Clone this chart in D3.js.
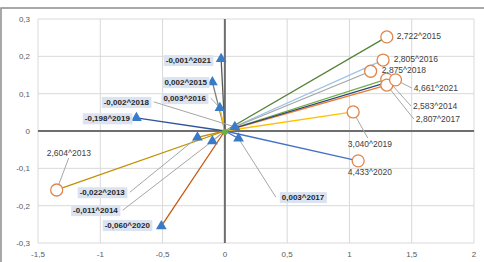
<!DOCTYPE html>
<html>
<head>
<meta charset="utf-8">
<style>
  body { margin: 0; background: #fff; }
  svg { display: block; font-family: "Liberation Sans", Arial, sans-serif; }
</style>
</head>
<body>
<script src="https://cdn.jsdelivr.net/npm/d3@7"></script>
<script>
// data
var xTicks = [-1.5, -1, -0.5, 0, 0.5, 1, 1.5, 2];
var yTicks = [-0.3, -0.2, -0.1, 0, 0.1, 0.2, 0.3];

// circles (orange open)
var circYear  = [2013, 2014, 2015, 2016, 2017, 2018, 2019, 2020, 2021];
var circValue = ["2,604", "2,583", "2,722", "2,805", "2,807", "2,875", "3,040", "4,433", "4,661"];
var circX     = [-1.35, 1.30, 1.30, 1.27, 1.30, 1.17, 1.03, 1.07, 1.37];
var circY     = [-0.158, 0.139, 0.252, 0.190, 0.123, 0.160, 0.051, -0.080, 0.137];

// triangles (blue filled)
var triYear  = [2013, 2014, 2015, 2016, 2017, 2018, 2019, 2020, 2021];
var triValue = ["-0,022", "-0,011", "0,002", "0,003", "0,003", "-0,002", "-0,198", "-0,060", "-0,001"];
var triX     = [-0.22, -0.10, -0.10, -0.04, 0.11, 0.08, -0.71, -0.51, -0.03];
var triY     = [-0.017, -0.027, 0.131, 0.062, -0.020, 0.011, 0.035, -0.255, 0.193];

// layout: label anchors (data coords), colours
var circLabX = [-1.43, 1.51, 1.38, 1.356, 1.533, 1.26, 0.987, 0.987, 1.517];
var circLabY = [-0.059, 0.067, 0.255, 0.193, 0.032, 0.164, -0.035, -0.11, 0.115];
var circLead = [true, true, false, false, true, false, true, false, true];
var circCol  = ["#BF9000", "#70AD47", "#548235", "#9DC3E6", "#ED7D31", "#A5A5A5", "#FFC000", "#4472C4", "#264478"];

var triLabX = [-0.787, -0.843, -0.128, -0.136, 0.441, -0.594, -0.746, -0.586, -0.096];
var triLabY = [-0.164, -0.212, 0.131, 0.088, -0.177, 0.078, 0.034, -0.252, 0.190];
var triLead = [true, true, false, true, true, true, false, false, false];
var triCol  = ["#BF9000", "#A5A5A5", "#7F7F7F", "#FFC000", "#4472C4", "#A9D18E", "#2F5597", "#C55A11", "#595959"];

var width = 484, height = 262;
var margin = { top: 19, right: 10, bottom: 19, left: 38 };

var svg = d3.select("body").append("svg")
    .attr("width", width).attr("height", height);

// chart frame
svg.append("rect")
    .attr("x", 1).attr("y", 8).attr("width", width + 10).attr("height", height)
    .attr("fill", "none").attr("stroke", "#8c8c8c").attr("stroke-width", 1.5);

var x = d3.scaleLinear().domain([-1.5, 2]).range([margin.left, width - margin.right]);
var y = d3.scaleLinear().domain([-0.3, 0.3]).range([height - margin.bottom, margin.top]);

// grid
svg.append("g").selectAll("line").data(xTicks).join("line")
    .attr("x1", d => x(d)).attr("x2", d => x(d))
    .attr("y1", y(0.3)).attr("y2", y(-0.3))
    .attr("stroke", "#d9d9d9");
svg.append("g").selectAll("line").data(yTicks).join("line")
    .attr("x1", x(-1.5)).attr("x2", x(2))
    .attr("y1", d => y(d)).attr("y2", d => y(d))
    .attr("stroke", "#d9d9d9");

// zero axes
svg.append("line").attr("x1", x(0)).attr("x2", x(0)).attr("y1", y(0.3)).attr("y2", y(-0.3))
    .attr("stroke", "#6e6e6e").attr("stroke-width", 2);
svg.append("line").attr("x1", x(-1.5)).attr("x2", x(2)).attr("y1", y(0)).attr("y2", y(0))
    .attr("stroke", "#6e6e6e").attr("stroke-width", 2);

// tick labels
var fmt = d => (d === 0 ? "0" : String(+d.toFixed(1)).replace(".", ","));
svg.append("g").selectAll("text").data(yTicks).join("text")
    .attr("x", 30).attr("y", d => y(d) + 3)
    .attr("text-anchor", "end").attr("font-size", 8).attr("fill", "#595959")
    .text(fmt);
svg.append("g").selectAll("text").data(xTicks).join("text")
    .attr("x", d => x(d)).attr("y", 257)
    .attr("text-anchor", "middle").attr("font-size", 8).attr("fill", "#595959")
    .text(fmt);

var circ = circYear.map((yr, i) => ({ yr: yr, v: circValue[i], x: circX[i], y: circY[i],
    lx: circLabX[i], ly: circLabY[i], lead: circLead[i], c: circCol[i] }));
var tri = triYear.map((yr, i) => ({ yr: yr, v: triValue[i], x: triX[i], y: triY[i],
    lx: triLabX[i], ly: triLabY[i], lead: triLead[i], c: triCol[i] }));

// vectors from origin
svg.append("g").selectAll("line").data(circ.concat(tri)).join("line")
    .attr("x1", x(0)).attr("y1", y(0))
    .attr("x2", d => x(d.x)).attr("y2", d => y(d.y))
    .attr("stroke", d => d.c).attr("stroke-width", 1.3);

// leader lines: to label side, or to label top/bottom when stacked
function leadEnd(d) {
  if (x(d.lx) - x(d.x) > 12) return [x(d.lx) - 2, y(d.ly)];
  return y(d.ly) > y(d.y) ? [x(d.lx) + 20, y(d.ly) - 6] : [x(d.lx) + 22, y(d.ly) + 5];
}
svg.append("g").selectAll("line").data(circ.filter(d => d.lead)).join("line")
    .attr("x1", d => x(d.x)).attr("y1", d => y(d.y))
    .attr("x2", d => leadEnd(d)[0]).attr("y2", d => leadEnd(d)[1])
    .attr("stroke", "#a6a6a6");
svg.append("g").selectAll("line").data(tri.filter(d => d.lead)).join("line")
    .attr("x1", d => x(d.x)).attr("y1", d => y(d.y))
    .attr("x2", d => d.lx > 0 ? x(d.lx) - 4 : x(d.lx) + 3).attr("y2", d => y(d.ly))
    .attr("stroke", "#a6a6a6");

// origin marker
svg.append("circle").attr("cx", x(0)).attr("cy", y(0) + 1).attr("r", 3).attr("fill", "#70AD47");

// triangles
svg.append("g").selectAll("path").data(tri).join("path")
    .attr("transform", d => `translate(${x(d.x)},${y(d.y)})`)
    .attr("d", d3.symbol(d3.symbolTriangle, 50))
    .attr("fill", "#3A7BC8");

// circles
svg.append("g").selectAll("circle").data(circ).join("circle")
    .attr("cx", d => x(d.x)).attr("cy", d => y(d.y)).attr("r", 6)
    .attr("fill", "#fff").attr("stroke", "#E2854A").attr("stroke-width", 1.3);

// circle labels
svg.append("g").selectAll("text").data(circ).join("text")
    .attr("x", d => x(d.lx)).attr("y", d => y(d.ly) + 3)
    .attr("font-size", 8.5).attr("fill", "#404040")
    .text(d => d.v + "^" + d.yr);

// triangle labels with boxes
var tl = svg.append("g").selectAll("g").data(tri).join("g");
tl.append("text")
    .attr("x", d => d.lx > 0 ? x(d.lx) + 2 : x(d.lx) - 2)
    .attr("y", d => y(d.ly) + 3)
    .attr("text-anchor", d => d.lx > 0 ? "start" : "end")
    .attr("font-size", 8).attr("font-weight", "bold").attr("fill", "#262626")
    .text(d => d.v + "^" + d.yr);
tl.each(function() {
  var g = d3.select(this), b = g.select("text").node().getBBox();
  g.insert("rect", "text")
      .attr("x", b.x - 2).attr("y", b.y - 1)
      .attr("width", b.width + 4).attr("height", b.height + 2)
      .attr("fill", "#DCE3F0");
});
</script>
</body>
</html>
